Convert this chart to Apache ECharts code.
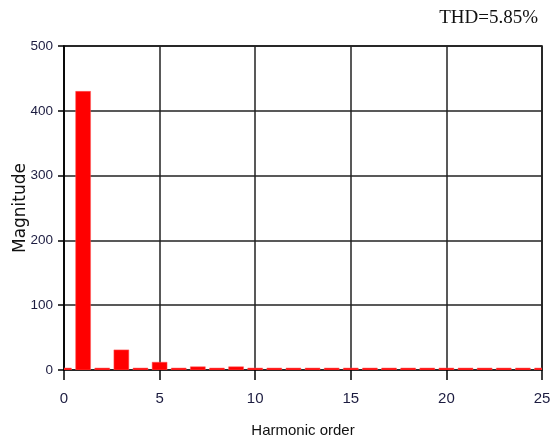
<!DOCTYPE html>
<html>
<head>
<meta charset="utf-8">
<script src="https://cdn.jsdelivr.net/npm/echarts@6/dist/echarts.min.js"></script>
<style>
html,body{margin:0;padding:0;background:#fff;}
#chart{width:555px;height:442px;}
</style>
</head>
<body>
<div id="chart"></div>
<script>
// Harmonic orders 0..25 and their magnitudes
var harmonicOrders = [0,1,2,3,4,5,6,7,8,9,10,11,12,13,14,15,16,17,18,19,20,21,22,23,24,25];
var magnitudes = [3,430,3,31,3,12,3,5,3,5,3,3,3,3,3,3,3,3,3,3,3,3,3,3,3,3];
var xTicks = {min:0, max:25, interval:5};
var yTicks = {min:0, max:500, interval:100};
var thdText = 'THD=5.85%';
var xTitle = 'Harmonic order';
var yTitle = 'Magnitude';

var barData = harmonicOrders.map(function(h, i){ return [h, magnitudes[i]]; });

var chart = echarts.init(document.getElementById('chart'), null, {renderer:'canvas'});
var labelColor = '#1c1c40';
var sans = '"Liberation Sans",Arial,sans-serif';

function renderBar(params, api){
  var x = api.value(0), y = api.value(1);
  var base = api.coord([x, 0]);
  var top = api.coord([x, y]);
  var w = api.size([1, 0])[0] * 0.78;
  var cs = params.coordSys;
  var rect = echarts.graphic.clipRectByRect(
    {x: base[0] - w / 2, y: top[1], width: w, height: base[1] - top[1]},
    {x: cs.x, y: cs.y, width: cs.width, height: cs.height}
  );
  if (!rect) return null;
  return {type:'rect', shape:rect, style:{fill:'#ff0000', stroke:'#ff5a5a', lineWidth:0.5}};
}

chart.setOption({
  animation:false,
  backgroundColor:'#fff',
  title:{
    text: thdText,
    right: 12, top: 4,
    textStyle:{fontFamily:'"Liberation Serif","Times New Roman",serif', fontSize:19, fontWeight:'normal', color:'#111'}
  },
  grid:{left:64, right:13, top:46, bottom:72, show:true, borderColor:'#000', borderWidth:1.5, backgroundColor:'transparent', containLabel:false, outerBoundsMode:'none'},
  xAxis:{
    type:'value', min:xTicks.min, max:xTicks.max, interval:xTicks.interval,
    offset:3,
    name:xTitle, nameLocation:'middle', nameGap:50,
    nameTextStyle:{fontFamily:sans, fontSize:15, color:'#111'},
    axisLine:{show:false},
    axisTick:{show:true, length:10, lineStyle:{color:'#000', width:1.5}},
    axisLabel:{margin:18, fontFamily:sans, fontSize:15, color:labelColor},
    splitLine:{show:true, lineStyle:{color:'#222', width:1.5}}
  },
  yAxis:{
    type:'value', min:yTicks.min, max:yTicks.max, interval:yTicks.interval,
    name:yTitle, nameLocation:'middle', nameGap:35, nameRotate:90, nameMoveOverlap:false,
    nameTextStyle:{fontFamily:'"DejaVu Sans",sans-serif', fontSize:17, color:'#111'},
    axisLine:{show:true, lineStyle:{color:'#000', width:1.5}},
    axisTick:{show:true, length:6, lineStyle:{color:'#000', width:1.5}},
    axisLabel:{margin:11, fontFamily:sans, fontSize:13.5, color:labelColor},
    splitLine:{show:true, lineStyle:{color:'#222', width:1.5}}
  },
  series:[{
    type:'custom',
    renderItem: renderBar,
    encode:{x:0, y:1},
    data: barData,
    clip:true
  }]
});
</script>
</body>
</html>
